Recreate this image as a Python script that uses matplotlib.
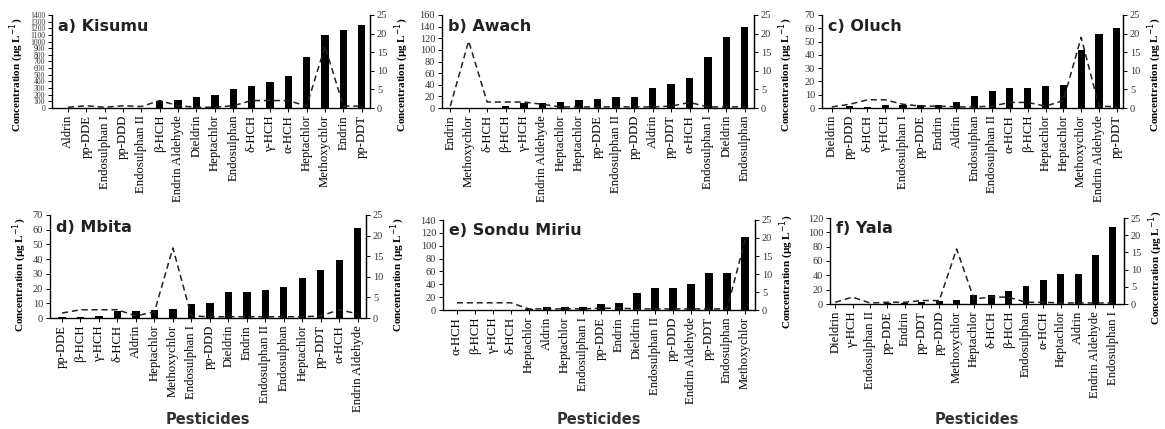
import matplotlib
matplotlib.use("Agg")
import matplotlib.pyplot as plt
import numpy as np

# ---------------- data ----------------
kisumu_cats = ["Aldrin", "pp-DDE", "Endosulphan I", "pp-DDD", "Endosulphan II", "β-HCH",
               "Endrin Aldehyde", "Dieldrin", "Heptachlor", "Endosulphan", "δ-HCH", "γ-HCH",
               "α-HCH", "Heptachlor", "Methoxychlor", "Endrin", "pp-DDT"]
kisumu_bars = [2, 5, 2, 5, 5, 98, 126, 168, 196, 280, 336, 385, 476, 770, 1106, 1176, 1246]
kisumu_line = [0.2, 0.6, 0.2, 0.6, 0.4, 2.0, 0.6, 0.2, 0.2, 0.6, 2.0, 2.0, 2.0, 0.5, 16.6, 0.5, 0.5]

awach_cats = ["Endrin", "Methoxychlor", "δ-HCH", "β-HCH", "γ-HCH", "Endrin Aldehyde",
              "Heptachlor", "Heptachlor", "pp-DDE", "Endosulphan II", "pp-DDD", "Aldrin",
              "pp-DDT", "α-HCH", "Endosulphan I", "Dieldrin", "Endosulphan"]
awach_bars = [0.3, 0.3, 0.5, 3, 8, 8, 10, 13, 16, 19, 19, 35, 41, 51, 88, 123, 140]
awach_line = [0.5, 18.0, 1.6, 1.6, 1.6, 1.0, 0.3, 0.3, 0.3, 0.3, 0.3, 0.3, 0.5, 1.5, 0.3, 0.3, 0.3]

oluch_cats = ["Dieldrin", "pp-DDD", "δ-HCH", "γ-HCH", "Endosulphan I", "pp-DDE", "Endrin",
              "Aldrin", "Endosulphan", "Endosulphan II", "α-HCH", "β-HCH", "Heptachlor",
              "Heptachlor", "Methoxychlor", "Endrin Aldehyde", "pp-DDT"]
oluch_bars = [0.2, 1.3, 0.5, 2.0, 2.5, 2.5, 2.5, 4.5, 9.3, 12.8, 15.4, 15.4, 16.8, 17.3, 44, 56, 60]
oluch_line = [0.3, 1.0, 2.2, 2.2, 1.0, 0.5, 0.5, 0.3, 0.3, 0.5, 1.5, 1.5, 0.5, 2.0, 19.0, 0.5, 0.3]

mbita_cats = ["pp-DDE", "β-HCH", "γ-HCH", "δ-HCH", "Aldrin", "Heptachlor", "Methoxychlor",
              "Endosulphan I", "pp-DDD", "Dieldrin", "Endrin", "Endosulphan II", "Endosulphan",
              "Heptachlor", "pp-DDT", "α-HCH", "Endrin Aldehyde"]
mbita_bars = [0.5, 0.7, 1.6, 4.5, 4.5, 5.2, 6.0, 9.5, 10, 18, 18, 19.3, 21, 27, 32.5, 39.3, 61]
mbita_line = [1.2, 2.0, 2.0, 2.0, 0.5, 1.5, 17.0, 0.5, 0.3, 0.3, 0.3, 0.3, 0.3, 0.3, 0.5, 2.0, 1.0]

sondu_cats = ["α-HCH", "β-HCH", "γ-HCH", "δ-HCH", "Heptachlor", "Aldrin", "Heptachlor",
              "Endosulphan I", "pp-DDE", "Endrin", "Dieldrin", "Endosulphan II", "pp-DDD",
              "Endrin Aldehyde", "pp-DDT", "Endosulphan", "Methoxychlor"]
sondu_bars = [0.3, 0.3, 0.3, 0.3, 2, 4, 5, 5, 10, 11, 26, 34, 35, 41, 57, 58, 113]
sondu_line = [2.0, 2.0, 2.0, 2.0, 0.3, 0.3, 0.3, 0.3, 0.5, 0.5, 0.3, 0.3, 0.3, 0.3, 0.3, 0.3, 19.5]

yala_cats = ["Dieldrin", "γ-HCH", "Endosulphan II", "pp-DDE", "Endrin", "pp-DDT", "pp-DDD",
             "Methoxychlor", "Heptachlor", "δ-HCH", "β-HCH", "Endosulphan", "α-HCH",
             "Heptachlor", "Aldrin", "Endrin Aldehyde", "Endosulphan I"]
yala_bars = [0.3, 0.5, 0.3, 1.4, 1.8, 3.2, 3.7, 6, 12.4, 12.4, 18.4, 25, 33, 41.5, 42.4, 68, 108]
yala_line = [0.5, 2.0, 0.3, 0.5, 0.5, 1.0, 1.0, 16.0, 1.5, 2.0, 2.0, 0.5, 0.5, 0.3, 0.3, 0.3, 0.3]

titles = ["a) Kisumu", "b) Awach", "c) Oluch", "d) Mbita", "e) Sondu Miriu", "f) Yala"]
left_max = [1400, 160, 70, 70, 140, 120]
left_step = [100, 20, 10, 10, 20, 20]

panels = [
    (kisumu_cats, kisumu_bars, kisumu_line),
    (awach_cats, awach_bars, awach_line),
    (oluch_cats, oluch_bars, oluch_line),
    (mbita_cats, mbita_bars, mbita_line),
    (sondu_cats, sondu_bars, sondu_line),
    (yala_cats, yala_bars, yala_line),
]

# ---------------- layout ----------------
W, H = 1165, 429
boxes_px = [  # left, top, right, bottom in pixels
    (52, 15, 370, 108),
    (442, 15, 754, 108),
    (822, 15, 1123, 108),
    (50, 215, 366, 318),
    (443, 220, 755, 310),
    (830, 218, 1124, 304),
]
xlims = [(-0.87, 16.45), (-0.45, 16.5), (-0.55, 16.35), (-0.65, 16.45), (-0.77, 16.55), (-0.3, 16.65)]
show_left_label = [True, False, False, True, False, False]
label_y = [0.36, 0.36, 0.36, 0.42, 0.42, 0.42]

serif = ["Liberation Serif", "DejaVu Serif"]
sans = ["DejaVu Sans"]
ylabel = "Concentration (µg L$^{-1}$)"

fig = plt.figure(figsize=(W / 100, H / 100), dpi=100)

for i, ((cats, bars, line), box) in enumerate(zip(panels, boxes_px)):
    l, t, r, b = box
    ax = fig.add_axes([l / W, 1 - b / H, (r - l) / W, (b - t) / H])
    x = np.arange(len(cats))
    ax.bar(x, bars, width=0.4, color="black", zorder=2)
    ax.set_xlim(*xlims[i])
    ax.set_ylim(0, left_max[i])
    ax.set_yticks(np.arange(0, left_max[i] + 0.1, left_step[i]))
    ax.set_xticks(x)
    ax.set_xticklabels(cats, rotation=90, family=serif, fontsize=9.2)
    for lab in ax.get_yticklabels():
        lab.set_family(serif)
        lab.set_fontsize(5.5 if i == 0 else 7.5)
        lab.set_color("#333333")
    ax.tick_params(axis="both", length=3, width=0.7, pad=2)
    ax.spines["top"].set_visible(False)
    for s in ["left", "bottom", "right"]:
        ax.spines[s].set_linewidth(0.9)
    if show_left_label[i]:
        ax.set_ylabel(ylabel, family=serif, fontweight="bold", fontsize=8, labelpad=3)
        ax.yaxis.label.set_y(label_y[i])

    ax2 = ax.twinx()
    ax2.plot(x, line, color="#222222", linestyle=(0, (4, 2.5)), linewidth=1.1, zorder=3)
    ax2.set_ylim(0, 25)
    ax2.set_yticks([0, 5, 10, 15, 20, 25])
    for lab in ax2.get_yticklabels():
        lab.set_family(serif)
        lab.set_fontsize(7.5)
        lab.set_color("#333333")
    ax2.tick_params(axis="y", length=3, width=0.7, pad=2)
    ax2.spines["top"].set_visible(False)
    ax2.spines["right"].set_linewidth(0.9)
    ax2.set_ylabel(ylabel, family=serif, fontweight="bold", fontsize=8, labelpad=4)
    ax2.yaxis.label.set_y(label_y[i])

    ax.text(0.02, 0.88, titles[i], transform=ax.transAxes, family=sans,
            fontweight="bold", fontsize=11.5, color="#222222", va="center", ha="left")

    if i >= 3:
        cx = ((l + r) / 2) / W
        fig.text(cx, 1 - 420 / H, "Pesticides", family=sans, fontweight="bold",
                 fontsize=10.5, color="#333333", ha="center", va="center")

fig.savefig("out.png", dpi=100)
